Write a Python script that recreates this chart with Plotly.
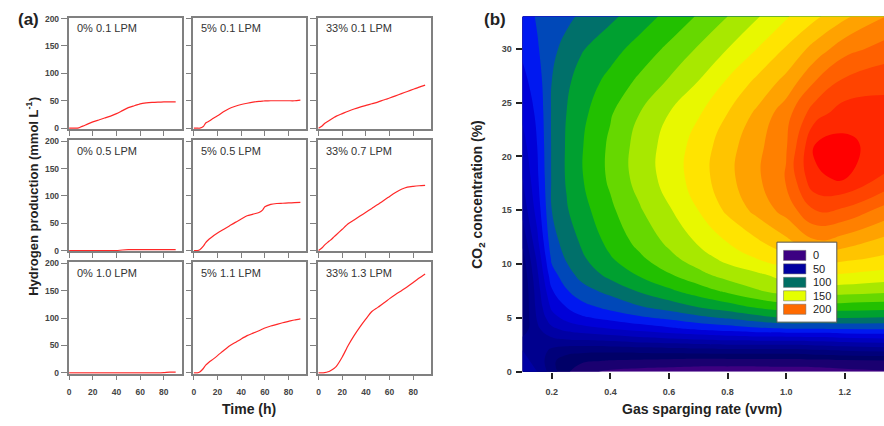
import plotly.graph_objects as go

W, H = 884, 426

# ---------------- panel (a): cumulative hydrogen production ----------------
hours = [0, 3, 5, 8, 10, 13, 15, 20, 25, 30, 35, 40, 45, 50, 55, 58, 60, 65, 70, 75, 80, 85, 90]

panel_labels = ["0% 0.1 LPM", "5% 0.1 LPM", "33% 0.1 LPM",
                "0% 0.5 LPM", "5% 0.5 LPM", "33% 0.7 LPM",
                "0% 1.0 LPM", "5% 1.1 LPM", "33% 1.3 LPM"]

h2_0pct_01 = [0, 0, 0, 0.5, 2.5, 5, 7, 11.5, 15, 18.5, 22, 26.5, 32, 37.5, 41, 43, 44.3, 46, 47, 47.5, 47.8, 48, 48]
h2_5pct_01 = [0, 0, 0, 3, 9.5, 13, 16, 22.5, 30, 36, 40, 43.2, 45.5, 47.5, 49, 49.5, 49.7, 50, 50, 50, 50, 50, 51]
h2_33pct_01 = [0, 4, 8.5, 12.5, 15.5, 19.5, 22, 26.5, 31, 35, 38.5, 41.5, 44.5, 47.5, 51.5, 53.5, 55, 59, 63, 67, 71, 75, 78.6]
h2_0pct_05 = [0, 0, 0, 0, 0, 0, 0, 0, 0, 0, 0, 0, 1, 1.5, 1.5, 1.5, 1.5, 1.5, 1.5, 1.5, 1.5, 1.5, 1.5]
h2_5pct_05 = [0, 0, 1.5, 8, 14.5, 21, 24.5, 32, 38.5, 45, 51.5, 57.5, 63.5, 66.5, 69.5, 74, 80, 84.5, 86, 86.5, 87, 87.5, 88]
h2_33pct_07 = [0, 5, 10, 15.5, 19, 25, 29, 39, 49, 56, 63, 70, 77, 84, 91.5, 96, 99, 106, 112, 116, 117.5, 118.5, 119]
h2_0pct_10 = [0, 0, 0, 0, 0, 0, 0, 0, 0, 0, 0, 0, 0, 0, 0, 0, 0, 0, 0, 0, 0.5, 1.5, 1.5]
h2_5pct_11 = [0, 0, 1.5, 8, 14, 20, 23, 31.5, 40.5, 49, 55.5, 62, 68, 72.5, 77, 80, 82, 85.5, 88.5, 91.5, 94, 96.5, 98.5]
h2_33pct_13 = [0, 0, 0.5, 2, 4, 8, 12, 29, 50, 68, 84, 98.5, 112, 119.5, 127.5, 132, 135.5, 143, 150, 157, 165, 173, 180.5]

h2_series = [h2_0pct_01, h2_5pct_01, h2_33pct_01,
             h2_0pct_05, h2_5pct_05, h2_33pct_07,
             h2_0pct_10, h2_5pct_11, h2_33pct_13]

time_ticks = [0, 20, 40, 60, 80]
h2_ticks = [0, 50, 100, 150, 200]

# ---------------- panel (b): response surface ----------------
gas_rate = [0.1, 0.15, 0.2, 0.25, 0.3, 0.4, 0.5, 0.6, 0.7, 0.8, 0.9, 1.0, 1.1, 1.2, 1.34]
co2_pct = [0, 1, 2, 3, 4, 5, 6, 7.5, 9, 10.5, 12, 15, 18, 21, 24, 27, 30, 33]

# hydrogen production, one row per CO2 level, one column per gas rate
h2_surface = [
    [52, 50, 35, 22, 13, 8, 6, 5, 4, 4, 4, 5, 5, 7, 9],
    [52, 48, 32, 25, 22, 19, 18, 17, 16, 16, 16, 16, 17, 18, 19],
    [50, 46, 38, 34, 33, 33, 34, 35, 36, 37, 37, 37, 39, 41, 43],
    [42, 46, 48, 50, 51, 53, 56, 58, 60, 62, 63, 63, 64, 66, 68],
    [34, 48, 58, 63, 66, 70, 74, 78, 82, 85, 88, 90, 90, 91, 91],
    [31, 51, 66, 73, 78, 83, 88, 92, 97, 101, 106, 110, 110, 110, 109],
    [30, 53, 72, 80, 86, 93, 99, 104, 110, 115, 121, 125, 126, 125, 124],
    [30, 55, 79, 89, 96, 103, 111, 118, 125, 132, 139, 144, 145, 144, 142],
    [32, 58, 86, 96, 103, 113, 121, 129, 137, 144, 148, 154, 161, 159, 156],
    [36, 62, 92, 101, 108, 119, 128, 137, 145, 153, 160, 167, 175, 172, 168],
    [42, 67, 96, 104, 111, 123, 133, 142, 151, 160, 168, 177, 188, 184, 176],
    [53, 74, 100, 109, 116, 128, 139, 149, 160, 172, 183, 194, 210, 208, 196],
    [60, 78, 101, 111, 119, 132, 144, 154, 165, 177, 188, 201, 229, 231, 219],
    [66, 80, 101, 111, 119, 132, 144, 154, 164, 176, 187, 199, 231, 233, 225],
    [72, 82, 101, 110, 117, 129, 140, 150, 159, 170, 182, 196, 216, 225, 224],
    [77, 85, 100, 108, 114, 123, 132, 141, 150, 161, 172, 183, 200, 212, 217],
    [82, 89, 97, 104, 109, 116, 124, 132, 141, 150, 160, 171, 184, 196, 204],
    [85, 91, 94, 97, 102, 108, 115, 123, 131, 140, 149, 159, 168, 178, 190],
]

rate_ticks = [0.2, 0.4, 0.6, 0.8, 1.0, 1.2]
co2_ticks = [0, 5, 10, 15, 20, 25, 30]

# one fill colour per 10-unit band, from <10 up to >=230
band_colors = ["#3d0080", "#1a0070", "#000068", "#00007a", "#00008e", "#0000a4",
               "#0000be", "#0000d8", "#0018f0", "#0048b8", "#00706a", "#00a030",
               "#22c000", "#66d800", "#a8e800", "#e8f800", "#ffe400", "#ffc400",
               "#ffa200", "#ff8000", "#ff6000", "#ff4400", "#ff2800", "#ff0000"]

legend_levels = ["0", "50", "100", "150", "200"]
legend_colors = ["#3c0082", "#0000a0", "#006e63", "#e5ff00", "#ff6a00"]

# ---------------- helpers ----------------
FONT = "Arial, Liberation Sans, sans-serif"


def fx(p):
    return p / W


def fy(p):
    return 1 - p / H


col_px = [(66.7, 180.0), (191.7, 305.0), (316.7, 430.0)]
row_px = [(14.0, 127.7), (139.3, 252.7), (264.0, 377.7)]

fig = go.Figure()
layout = {}
annotations = []

for i, (label, vals) in enumerate(zip(panel_labels, h2_series)):
    r, c = divmod(i, 3)
    n = i + 1
    xa = "x" if n == 1 else f"x{n}"
    ya = "y" if n == 1 else f"y{n}"
    fig.add_trace(go.Scatter(x=hours, y=vals, mode="lines",
                             line=dict(color="rgb(255,40,40)", width=1.2,
                                       shape="spline", smoothing=0.6),
                             xaxis=xa, yaxis=ya, showlegend=False, hoverinfo="skip"))
    x0, x1 = col_px[c]
    y0, y1 = row_px[r]
    layout[f"xaxis{n}"] = dict(
        domain=[fx(x0), fx(x1)], range=[-0.5, 95], anchor=ya,
        showline=True, mirror=True, linecolor="#808080", linewidth=1.5,
        showgrid=False, zeroline=False, ticks="outside", ticklen=5,
        tickcolor="#808080", tickwidth=1, tickvals=time_ticks,
        showticklabels=(r == 2), ticklabelstandoff=4,
        tickfont=dict(family=FONT, size=8.5, color="#444", weight="bold"),
    )
    layout[f"yaxis{n}"] = dict(
        domain=[fy(y1), fy(y0)], range=[-1.5, 201.5], anchor=xa,
        showline=True, mirror=True, linecolor="#808080", linewidth=1.5,
        showgrid=False, zeroline=False, ticks="outside", ticklen=6,
        tickcolor="#808080", tickwidth=1, tickvals=h2_ticks,
        showticklabels=(c == 0),
        tickfont=dict(family=FONT, size=8.5, color="#444", weight="bold"),
    )
    annotations.append(dict(text=label, xref="paper", yref="paper",
                            x=fx(x0 + 6), y=fy(y0 + 11), xanchor="left", yanchor="middle",
                            showarrow=False, font=dict(family=FONT, size=11, color="#333")))

# contour panel
nb = len(band_colors)
cscale = []
for k, col in enumerate(band_colors):
    lo = max(0.0, (k - 0.5) / (nb - 1))
    hi = min(1.0, (k + 0.5) / (nb - 1))
    cscale.append([lo, col])
    cscale.append([hi, col])

fig.add_trace(go.Contour(
    x=gas_rate, y=co2_pct, z=h2_surface,
    xaxis="x10", yaxis="y10",
    autocontour=False,
    contours=dict(start=10, end=230, size=10, coloring="fill", showlines=False),
    line=dict(width=0, smoothing=1.3),
    colorscale=cscale, showscale=False, hoverinfo="skip",
))

layout["xaxis10"] = dict(
    domain=[fx(521.7), fx(884)], range=[0.1, 1.334], anchor="y10",
    showline=False, showgrid=False, zeroline=False, ticks="outside", ticklen=6,
    tickwidth=1.5, tickcolor="#222", tickvals=rate_ticks,
    ticktext=[f"{v:.1f}" for v in rate_ticks], ticklabelstandoff=5,
    tickfont=dict(family=FONT, size=9, color="#444", weight="bold"),
)
layout["yaxis10"] = dict(
    domain=[fy(375.7), fy(12.7)], range=[0, 33], anchor="x10",
    showline=False, showgrid=False, zeroline=False, ticks="outside", ticklen=6,
    tickwidth=1.5, tickcolor="#222", tickvals=co2_ticks, ticklabelstandoff=2,
    tickfont=dict(family=FONT, size=9, color="#444", weight="bold"),
)

# legend box for the contour levels
shapes = [dict(type="rect", xref="paper", yref="paper",
               x0=fx(776.7), x1=fx(836.7), y0=fy(325), y1=fy(243.3),
               fillcolor="white", line=dict(color="#555", width=1), layer="above")]
for k, (lev, col) in enumerate(zip(legend_levels, legend_colors)):
    top = 251.7 + k * 13.75
    shapes.append(dict(type="rect", xref="paper", yref="paper",
                       x0=fx(783.3), x1=fx(805.7), y0=fy(top + 10.3), y1=fy(top),
                       fillcolor=col, line=dict(color="#666", width=0.5), layer="above"))
    annotations.append(dict(text=lev, xref="paper", yref="paper",
                            x=fx(810.5), y=fy(top + 5.2), xanchor="left", yanchor="middle",
                            showarrow=False, font=dict(family=FONT, size=11, color="#222")))

# titles and panel letters
annotations += [
    dict(text="<b>(a)</b>", x=fx(27), y=fy(15.5), font=dict(family=FONT, size=17, color="#222")),
    dict(text="<b>(b)</b>", x=fx(494), y=fy(15.5), font=dict(family=FONT, size=17, color="#222")),
    dict(text="<b>Hydrogen production (mmol L<sup>-1</sup>)</b>", x=fx(30), y=fy(196),
         textangle=-90, font=dict(family=FONT, size=13, color="#222")),
    dict(text="<b>Time (h)</b>", x=fx(248), y=fy(414), font=dict(family=FONT, size=14, color="#222")),
    dict(text="<b>Gas sparging rate (vvm)</b>", x=fx(702), y=fy(414),
         font=dict(family=FONT, size=14, color="#222")),
    dict(text="<b>CO<sub>2</sub> concentration (%)</b>", x=fx(477), y=fy(194),
         textangle=-90, font=dict(family=FONT, size=14, color="#222")),
]
for a in annotations[-6:]:
    a.update(xref="paper", yref="paper", showarrow=False, xanchor="center", yanchor="middle")

fig.update_layout(
    width=W, height=H, autosize=False,
    margin=dict(l=0, r=0, t=0, b=0),
    paper_bgcolor="white", plot_bgcolor="white",
    showlegend=False,
    annotations=annotations, shapes=shapes,
    **layout,
)

fig.write_html("out.html")
